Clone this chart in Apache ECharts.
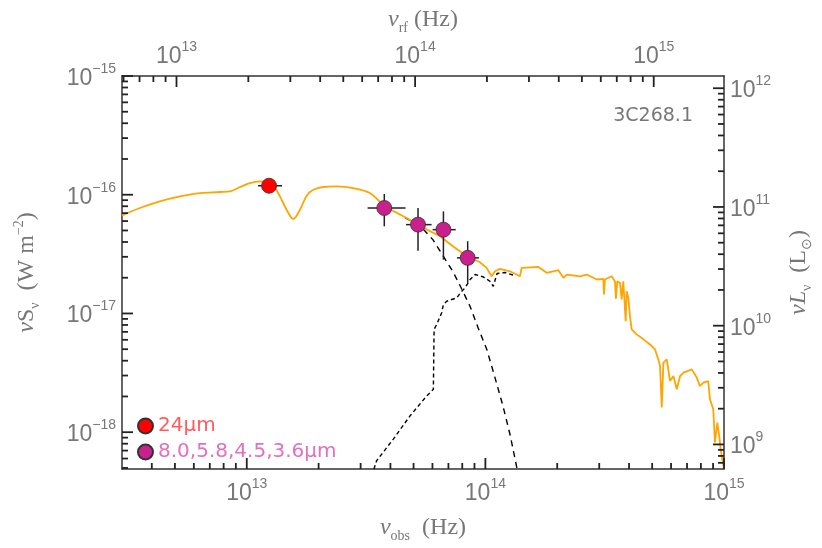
<!DOCTYPE html>
<html>
<head>
<meta charset="utf-8">
<script src="https://cdn.jsdelivr.net/npm/echarts@6/dist/echarts.min.js"></script>
<style>
html, body { margin: 0; padding: 0; background: #fff; }
#chart { width: 822px; height: 548px; }
</style>
</head>
<body>
<div id="chart"></div>
<script>
// total SED model, log10 nu_obs (Hz) / log10 nuS_nu (W m^-2)
const sedLogNu = [12.477, 12.552, 12.636, 12.720, 12.804, 12.888, 12.930, 12.972, 13.013, 13.055, 13.085, 13.118, 13.139, 13.167, 13.195, 13.223, 13.251, 13.279, 13.321, 13.377, 13.446, 13.516, 13.571, 13.670, 13.739, 13.810, 13.864, 13.922, 13.977, 14.005, 14.026, 14.040, 14.061, 14.103, 14.145, 14.152, 14.222, 14.257, 14.306, 14.327, 14.341, 14.397, 14.425, 14.467, 14.494, 14.497, 14.501, 14.529, 14.543, 14.547, 14.553, 14.564, 14.571, 14.578, 14.588, 14.592, 14.599, 14.606, 14.613, 14.634, 14.662, 14.690, 14.711, 14.725, 14.732, 14.739, 14.746, 14.760, 14.774, 14.788, 14.802, 14.816, 14.830, 14.865, 14.886, 14.899, 14.913, 14.934, 14.941, 14.955, 14.962, 14.972, 14.980, 14.986, 14.995, 15.0];
const sedLogFlux = [-16.176, -16.112, -16.056, -16.014, -15.986, -15.977, -15.972, -15.935, -15.902, -15.888, -15.897, -15.944, -16.014, -16.126, -16.204, -16.126, -16.008, -15.958, -15.935, -15.930, -15.944, -15.986, -16.092, -16.196, -16.277, -16.350, -16.434, -16.518, -16.569, -16.616, -16.687, -16.645, -16.624, -16.645, -16.687, -16.616, -16.608, -16.658, -16.636, -16.700, -16.672, -16.687, -16.672, -16.714, -16.708, -16.840, -16.714, -16.687, -16.729, -16.876, -16.729, -16.742, -16.882, -16.729, -17.065, -16.813, -16.868, -17.023, -17.134, -17.176, -17.218, -17.261, -17.303, -17.387, -17.443, -17.792, -17.414, -17.387, -17.569, -17.527, -17.639, -17.527, -17.498, -17.471, -17.540, -17.611, -17.582, -17.569, -17.723, -17.807, -18.087, -17.919, -18.031, -18.143, -18.255, -18.311];

// hot dust component (dashed)
const agnLogNu = [13.663, 13.726, 13.780, 13.822, 13.864, 13.902, 13.936, 13.969, 14.006, 14.040, 14.074, 14.103, 14.133];
const agnLogFlux = [-16.193, -16.261, -16.378, -16.513, -16.647, -16.798, -16.941, -17.118, -17.303, -17.538, -17.782, -18.017, -18.311];

// stellar component (dashed)
const starLogNu = [13.533, 13.544, 13.614, 13.684, 13.754, 13.782, 13.785, 13.796, 13.817, 13.824, 13.838, 13.880, 13.901, 13.915, 13.936, 13.957, 13.991, 14.019, 14.033, 14.049, 14.082, 14.124];
const starLogFlux = [-18.311, -18.241, -18.059, -17.863, -17.695, -17.639, -17.134, -17.092, -16.994, -16.924, -16.897, -16.868, -16.813, -16.784, -16.714, -16.672, -16.692, -16.729, -16.771, -16.664, -16.655, -16.681];

// photometry (Hz, W m^-2)
const mipsNu = [1.24e13], mipsNuLo = [1.115e13], mipsNuHi = [1.405e13];
const mipsFlux = [1.19e-16], mipsFluxLo = [1.06e-16], mipsFluxHi = [1.31e-16];
const iracNu = [3.77e13, 5.22e13, 6.67e13, 8.43e13];
const iracNuLo = [3.21e13, 4.65e13, 6.01e13, 7.6e13];
const iracNuHi = [4.63e13, 5.95e13, 7.51e13, 9.4e13];
const iracFlux = [7.73e-17, 5.60e-17, 5.08e-17, 2.94e-17];
const iracFluxLo = [5.42e-17, 3.38e-17, 2.84e-17, 1.81e-17];
const iracFluxHi = [1.014e-16, 7.73e-17, 7.24e-17, 4.06e-17];

// axes (log10 units)
const bottomTickExps = [13, 14, 15];
const topTickExps = [13, 14, 15];
const leftTickExps = [-18, -17, -16, -15];
const rightTickExps = [9, 10, 11, 12];
const X_MIN = Math.log10(3e12), X_MAX = 15;
const Y_MIN = -18.31, Y_MAX = -15;
const Z_OFF = 0.2945;     // log10(1+z)
const L_OFF = 27.103;     // nuS_nu -> nuL_nu in L_sun

const FONT = "'Liberation Sans Narrow', 'Liberation Sans', sans-serif";
const SERIF = "'Liberation Serif', serif";
const GREY = '#777';
const INK = '#222';

function minorTicks(lo, hi) {
  const out = [];
  for (let n = Math.floor(lo); n <= Math.ceil(hi); n++) {
    for (let k = 2; k <= 9; k++) {
      const v = n + Math.log10(k);
      if (v > lo && v < hi) out.push(v);
    }
  }
  return out;
}

function powLabel(v) {
  const e = Math.round(v);
  return '{b|10}{s|' + (e < 0 ? '\u2212' + (-e) : e) + '}';
}

const labelRich = {
  b: { fontSize: 23, color: GREY, fontFamily: FONT, lineHeight: 28, verticalAlign: 'bottom' },
  s: { fontSize: 14, color: GREY, fontFamily: FONT, lineHeight: 14, verticalAlign: 'top' }
};
const nameRich = {
  i: { fontSize: 24, color: GREY, fontFamily: SERIF, fontStyle: 'italic', lineHeight: 30 },
  n: { fontSize: 24, color: GREY, fontFamily: SERIF, lineHeight: 30 },
  sub: { fontSize: 14, color: GREY, fontFamily: SERIF, verticalAlign: 'bottom', lineHeight: 14 },
  sup: { fontSize: 14, color: GREY, fontFamily: SERIF, verticalAlign: 'top', lineHeight: 14 }
};
const axisLineStyle = { color: '#333', width: 1.5 };

function makeAxis(pos, min, max, exps, name, gap) {
  return {
    type: 'value', position: pos, min: min, max: max,
    axisLine: { show: true, onZero: false, lineStyle: axisLineStyle },
    axisTick: { show: false },
    axisLabel: { customValues: exps, formatter: powLabel, rich: labelRich, margin: pos === 'left' || pos === 'right' ? 6 : 8 },
    splitLine: { show: false },
    name: name, nameLocation: 'middle', nameGap: gap,
    nameRotate: pos === 'left' || pos === 'right' ? 90 : 0,
    nameTextStyle: { rich: nameRich }
  };
}

// inward frame ticks, all expressed on the main (bottom/left) scales:
// [x, y, length, side]  side: 0 bottom, 1 top, 2 left, 3 right
const tickData = [];
function addTicks(side, majors, lo, hi, shift) {
  const put = (v, len) => {
    const u = v - shift;
    if (side === 0) tickData.push([u, Y_MIN, len, side]);
    else if (side === 1) tickData.push([u, Y_MAX, len, side]);
    else if (side === 2) tickData.push([X_MIN, u, len, side]);
    else tickData.push([X_MAX, u, len, side]);
  };
  majors.forEach(v => put(v, 11));
  minorTicks(lo, hi).forEach(v => put(v, 6));
}
addTicks(0, bottomTickExps, X_MIN, X_MAX, 0);
addTicks(1, topTickExps, X_MIN + Z_OFF, X_MAX + Z_OFF, Z_OFF);
addTicks(2, leftTickExps, Y_MIN, Y_MAX, 0);
addTicks(3, rightTickExps, Y_MIN + L_OFF, Y_MAX + L_OFF, L_OFF);

const mipsPoints = mipsNu.map((v, i) => [Math.log10(v), Math.log10(mipsFlux[i])]);
const iracPoints = iracNu.map((v, i) => [Math.log10(v), Math.log10(iracFlux[i])]);
const errData = mipsNu.map((v, i) => [v, mipsFlux[i], mipsNuLo[i], mipsNuHi[i], mipsFluxLo[i], mipsFluxHi[i]])
  .concat(iracNu.map((v, i) => [v, iracFlux[i], iracNuLo[i], iracNuHi[i], iracFluxLo[i], iracFluxHi[i]]))
  .map(r => r.map(Math.log10));

// smooth dust bump, jagged spectrum beyond
const SPLIT = 23;
const sedDust = sedLogNu.slice(0, SPLIT).map((v, i) => [v, sedLogFlux[i]]);
const sedStars = sedLogNu.slice(SPLIT - 1).map((v, i) => [v, sedLogFlux[i + SPLIT - 1]]);

var myChart = echarts.init(document.getElementById('chart'));
myChart.setOption({
  animation: false,
  backgroundColor: '#fff',
  title: {
    text: '3C268.1', right: 124, top: 102,
    textStyle: { fontSize: 19, fontWeight: 'normal', color: GREY, fontFamily: "'DejaVu Sans', sans-serif" }
  },
  grid: { left: 122, right: 98, top: 76, bottom: 78, containLabel: false },
  legend: {
    orient: 'vertical', left: 132, top: 411, itemGap: 6,
    itemWidth: 15, itemHeight: 15, icon: 'circle',
    textStyle: { fontSize: 20, fontFamily: "'DejaVu Sans', sans-serif" },
    data: [
      { name: '24μm', textStyle: { color: '#ff5c5c' } },
      { name: '8.0,5.8,4.5,3.6μm', textStyle: { color: '#e070c0' } }
    ]
  },
  xAxis: [
    makeAxis('bottom', X_MIN, X_MAX, bottomTickExps, '{i|ν}{sub|obs}{n|  (Hz)}', 44),
    makeAxis('top', X_MIN + Z_OFF, X_MAX + Z_OFF, topTickExps, '{i|ν}{sub|rf}{n| (Hz)}', 34)
  ],
  yAxis: [
    makeAxis('left', Y_MIN, Y_MAX, leftTickExps, '{i|ν}{n|S}{sub|ν}{n|  (W m}{sup|\u22122}{n|)}', 80),
    makeAxis('right', Y_MIN + L_OFF, Y_MAX + L_OFF, rightTickExps, '{i|νL}{sub|ν}{n|  (L}{sub|⊙}{n|)}', 60)
  ],
  series: [
    {
      type: 'line', data: starLogNu.map((v, i) => [v, starLogFlux[i]]),
      showSymbol: false, z: 1, lineStyle: { color: '#000', width: 1.4, type: [4, 3] }
    },
    {
      type: 'line', data: agnLogNu.map((v, i) => [v, agnLogFlux[i]]),
      showSymbol: false, z: 1, lineStyle: { color: '#000', width: 1.4, type: [6, 5] }
    },
    {
      type: 'line', data: sedDust, smooth: 0.35,
      showSymbol: false, z: 2, lineStyle: { color: '#ffa500', width: 1.8 }
    },
    {
      type: 'line', data: sedStars,
      showSymbol: false, z: 2, lineStyle: { color: '#ffa500', width: 1.8 }
    },
    {
      type: 'custom', z: 3, data: errData, encode: { x: 0, y: 1 },
      renderItem: function (params, api) {
        const xl = api.coord([api.value(2), api.value(1)]);
        const xh = api.coord([api.value(3), api.value(1)]);
        const yl = api.coord([api.value(0), api.value(4)]);
        const yh = api.coord([api.value(0), api.value(5)]);
        const st = { stroke: '#222', lineWidth: 1.5 };
        return {
          type: 'group',
          children: [
            { type: 'line', shape: { x1: xl[0], y1: xl[1], x2: xh[0], y2: xh[1] }, style: st },
            { type: 'line', shape: { x1: yl[0], y1: yl[1], x2: yh[0], y2: yh[1] }, style: st }
          ]
        };
      }
    },
    {
      type: 'custom', z: 6, data: tickData, encode: { x: 0, y: 1 },
      renderItem: function (params, api) {
        const p = api.coord([api.value(0), api.value(1)]);
        const len = api.value(2), side = api.value(3);
        const d = side === 0 ? [0, -len] : side === 1 ? [0, len] : side === 2 ? [len, 0] : [-len, 0];
        return {
          type: 'line',
          shape: { x1: p[0], y1: p[1], x2: p[0] + d[0], y2: p[1] + d[1] },
          style: { stroke: INK, lineWidth: 1.8 }
        };
      }
    },
    {
      name: '24μm', type: 'scatter', z: 4, data: mipsPoints, symbolSize: 15,
      itemStyle: { color: '#ff0000', borderColor: '#333', borderWidth: 0.8, opacity: 1 }
    },
    {
      name: '8.0,5.8,4.5,3.6μm', type: 'scatter', z: 4, data: iracPoints, symbolSize: 15,
      itemStyle: { color: '#c8208c', borderColor: '#333', borderWidth: 0.8, opacity: 1 }
    }
  ]
});
</script>
</body>
</html>
